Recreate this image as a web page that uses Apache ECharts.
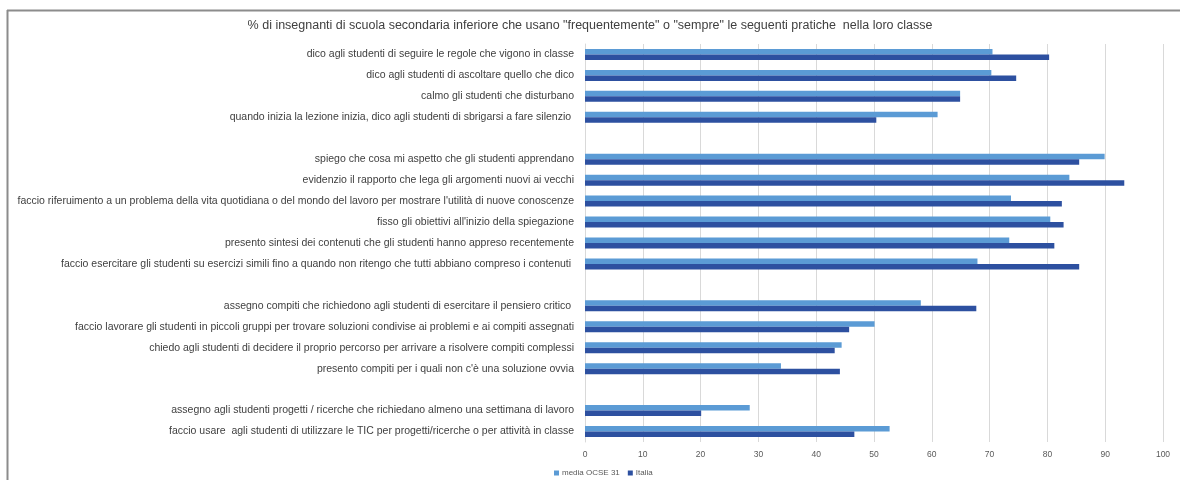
<!DOCTYPE html>
<html>
<head>
<meta charset="utf-8">
<script src="https://cdn.jsdelivr.net/npm/echarts@6/dist/echarts.min.js"></script>
<style>
  html, body { margin: 0; padding: 0; background: #fff; }
  #myChart { width: 1180px; height: 480px; }
</style>
</head>
<body>
<div id="myChart"></div>
<script>
// categorie dall'alto verso il basso ('' = riga vuota fra i gruppi)
const pratiche = [
  'dico agli studenti di seguire le regole che vigono in classe',
  'dico agli studenti di ascoltare quello che dico',
  'calmo gli studenti che disturbano',
  'quando inizia la lezione inizia, dico agli studenti di sbrigarsi a fare silenzio ',
  '',
  'spiego che cosa mi aspetto che gli studenti apprendano',
  'evidenzio il rapporto che lega gli argomenti nuovi ai vecchi',
  "faccio riferuimento a un problema della vita quotidiana o del mondo del lavoro per mostrare l'utilità di nuove conoscenze",
  "fisso gli obiettivi all'inizio della spiegazione",
  'presento sintesi dei contenuti che gli studenti hanno appreso recentemente',
  'faccio esercitare gli studenti su esercizi simili fino a quando non ritengo che tutti abbiano compreso i contenuti ',
  '',
  'assegno compiti che richiedono agli studenti di esercitare il pensiero critico ',
  'faccio lavorare gli studenti in piccoli gruppi per trovare soluzioni condivise ai problemi e ai compiti assegnati',
  'chiedo agli studenti di decidere il proprio percorso per arrivare a risolvere compiti complessi',
  "presento compiti per i quali non c'è una soluzione ovvia",
  '',
  'assegno agli studenti progetti / ricerche che richiedano almeno una settimana di lavoro',
  'faccio usare  agli studenti di utilizzare le TIC per progetti/ricerche o per attività in classe'
];

const mediaOCSE = [70.5, 70.3, 64.9, 61.0, null, 89.9, 83.8, 73.7, 80.5, 73.4, 67.9, null, 58.1, 50.1, 44.4, 33.9, null, 28.5, 52.7];
const italia    = [80.3, 74.6, 64.9, 50.4, null, 85.5, 93.3, 82.5, 82.8, 81.2, 85.5, null, 67.7, 45.7, 43.2, 44.1, null, 20.1, 46.6];

const nomiSerie = ['media OCSE 31', 'Italia'];
const titolo = '% di insegnanti di scuola secondaria inferiore che usano "frequentemente" o "sempre" le seguenti pratiche  nella loro classe';

const fontBase = '"Liberation Sans Narrow", "Liberation Sans", Arial, sans-serif';

window.addEventListener('load', () => {
  const myChart = echarts.init(document.getElementById('myChart'));
  const option = {
    animation: false,
    backgroundColor: '#fff',
    textStyle: { fontFamily: fontBase },
    title: {
      text: titolo,
      left: 'center',
      top: 14,
      textStyle: { fontSize: 12.5, fontWeight: 'normal', color: '#404040', fontFamily: 'Liberation Sans, sans-serif' }
    },
    // cornice grigia del riquadro
    graphic: [
      { type: 'line', shape: { x1: 7, y1: 10.5, x2: 1180, y2: 10.5 }, style: { stroke: '#8c8c8c', lineWidth: 2 } },
      { type: 'line', shape: { x1: 7.5, y1: 10, x2: 7.5, y2: 480 }, style: { stroke: '#8c8c8c', lineWidth: 2 } }
    ],
    legend: {
      data: nomiSerie,
      left: 549,
      top: 464,
      itemWidth: 5,
      itemHeight: 5,
      itemGap: 8,
      icon: 'rect',
      textStyle: { fontSize: 8, color: '#595959', padding: [0, 0, 0, -2] }
    },
    grid: { left: 585, right: 17, top: 44, bottom: 38 },
    xAxis: {
      type: 'value',
      min: 0,
      max: 100,
      interval: 10,
      axisLine: { show: false },
      axisTick: { show: false },
      axisLabel: { fontSize: 8.5, color: '#595959', margin: 8 },
      splitLine: { lineStyle: { color: '#d9d9d9', width: 1 } }
    },
    yAxis: {
      type: 'category',
      inverse: true,
      data: pratiche,
      axisLine: { show: true, lineStyle: { color: '#d9d9d9' } },
      axisTick: { show: false },
      axisLabel: { fontSize: 10.5, color: '#404040', margin: 11, interval: 0 }
    },
    series: [
      {
        name: nomiSerie[0],
        type: 'bar',
        data: mediaOCSE,
        barWidth: 5.5,
        barGap: '0%',
        itemStyle: { color: '#5b9bd5' }
      },
      {
        name: nomiSerie[1],
        type: 'bar',
        data: italia,
        barWidth: 5.5,
        itemStyle: { color: '#2d50a0' }
      }
    ]
  };
  myChart.setOption(option);
  window.addEventListener('resize', function() { myChart.resize(); });
});
</script>
</body>
</html>
